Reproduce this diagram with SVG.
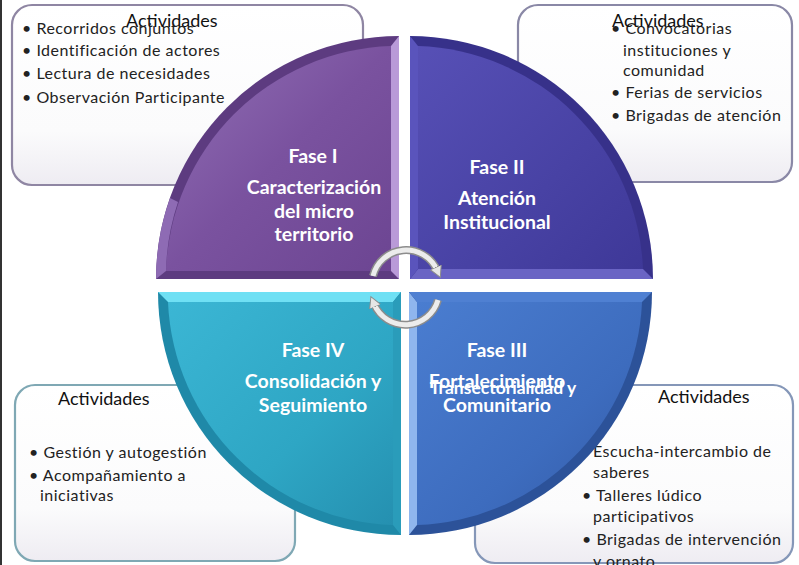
<svg xmlns="http://www.w3.org/2000/svg" width="799" height="565" viewBox="0 0 799 565">
<defs>
<style>
.box{stroke-width:2.2}
.act{font-family:Lato,"Liberation Sans",sans-serif;font-size:18px;fill:#111}
.item{font-family:Lato,"Liberation Sans",sans-serif;font-size:16px;letter-spacing:0.5px;fill:#222}
.ph{font-family:Lato,"Liberation Sans",sans-serif;font-size:19.5px;font-weight:bold;fill:#fff;text-anchor:middle}
.ph2{font-family:Lato,"Liberation Sans",sans-serif;font-size:17.5px;font-weight:bold;fill:#fff;text-anchor:middle}
.arc1{fill:none;stroke:#8c8c8c;stroke-width:8}
.arc2{fill:none;stroke:#ececec;stroke-width:5}
</style>
<linearGradient id="boxfill" x1="0" y1="0" x2="0" y2="1">
<stop offset="0" stop-color="#ffffff"/><stop offset="0.7" stop-color="#fbfbfc"/><stop offset="1" stop-color="#eeecf2"/>
</linearGradient>
<linearGradient id="gTL" x1="0" y1="0" x2="1" y2="1">
<stop offset="0" stop-color="#9270b6"/><stop offset="0.5" stop-color="#7a529f"/><stop offset="1" stop-color="#6c4592"/>
</linearGradient>
<linearGradient id="gTR" x1="0" y1="0" x2="1" y2="1">
<stop offset="0" stop-color="#5750b6"/><stop offset="0.6" stop-color="#4842a4"/><stop offset="1" stop-color="#3e3898"/>
</linearGradient>
<linearGradient id="gBL" x1="0" y1="0" x2="1" y2="1">
<stop offset="0" stop-color="#3bb6d4"/><stop offset="0.6" stop-color="#2ea6c4"/><stop offset="1" stop-color="#2590b0"/>
</linearGradient>
<linearGradient id="gBR" x1="0" y1="0" x2="1" y2="1">
<stop offset="0" stop-color="#4a7dd0"/><stop offset="0.6" stop-color="#3d6cbe"/><stop offset="1" stop-color="#335aa6"/>
</linearGradient>
<marker id="ah" markerUnits="userSpaceOnUse" markerWidth="14" markerHeight="14" refX="3" refY="7" orient="auto">
<path d="M0,1 L11,7 L0,13 Z" fill="#e6e6e6" stroke="#8c8c8c" stroke-width="1"/>
</marker>
</defs>

<rect x="0" y="0" width="2" height="565" fill="#333"/>

<g id="box-tl">
<rect class="box" x="12" y="5" width="351" height="180" rx="20" fill="url(#boxfill)" stroke="#8f86a3"/>
<text class="act" x="126" y="27">Actividades</text>
<text class="item" x="22" y="34">• Recorridos conjuntos</text>
<text class="item" x="22" y="56">• Identificación de actores</text>
<text class="item" x="22" y="79">• Lectura de necesidades</text>
<text class="item" x="22" y="103">• Observación Participante</text>
</g>

<g id="box-tr">
<rect class="box" x="518" y="5" width="274" height="177" rx="20" fill="url(#boxfill)" stroke="#8a88a6"/>
<text class="item" x="611" y="34">• Convocatorias</text>
<text class="item" x="623" y="56">instituciones y</text>
<text class="item" x="623" y="76">comunidad</text>
<text class="item" x="611" y="98">• Ferias de servicios</text>
<text class="item" x="611" y="121">• Brigadas de atención</text>
<text class="act" x="612" y="27">Actividades</text>
</g>

<g id="box-bl">
<rect class="box" x="15" y="385" width="280" height="176" rx="20" fill="url(#boxfill)" stroke="#7fa8b4"/>
<text class="act" x="58" y="405">Actividades</text>
<text class="item" x="29" y="458">• Gestión y autogestión</text>
<text class="item" x="29" y="481">• Acompañamiento a</text>
<text class="item" x="40" y="501">iniciativas</text>
</g>

<g id="box-br">
<rect class="box" x="475" y="385" width="318" height="178" rx="20" fill="url(#boxfill)" stroke="#8597b8"/>
<text class="act" x="658" y="403">Actividades</text>
<text class="item" x="593" y="457">Escucha-intercambio de</text>
<text class="item" x="593" y="478">saberes</text>
<text class="item" x="582" y="501">• Talleres lúdico</text>
<text class="item" x="593" y="522">participativos</text>
<text class="item" x="582" y="545">• Brigadas de intervención</text>
<text class="item" x="593" y="567">y ornato</text>
</g>

<g id="fase-1">
<path d="M399,279 L156,279 A243,243 0 0 1 399,36 Z" fill="#5d3b80"/>
<path d="M391,271 L166,271 A233,233 0 0 1 391,46 Z" fill="url(#gTL)"/>
<path d="M391,46 L399,36 L399,279 L391,271 Z" fill="#b99ad8"/>
<path d="M166,271 L156,279 A243,243 0 0 1 170,198 L178,202 A233,233 0 0 0 166,271 Z" fill="#8e6bb4"/>
<text class="ph" x="313" y="163">Fase I</text>
<text class="ph" x="314" y="194">Caracterización</text>
<text class="ph" x="314" y="218">del micro</text>
<text class="ph" x="314" y="241">territorio</text>
</g>

<g id="fase-2">
<path d="M410,279 L653,279 A243,243 0 0 0 410,36 Z" fill="#37318a"/>
<path d="M418,269 L643,269 A233,233 0 0 0 418,46 Z" fill="url(#gTR)"/>
<path d="M418,269 L643,269 L653,279 L410,279 Z" fill="#6a64c4"/>
<path d="M410,36 L418,46 L418,269 L410,279 Z" fill="#5a54bc"/>
<text class="ph" x="497" y="174">Fase II</text>
<text class="ph" x="497" y="205">Atención</text>
<text class="ph" x="497" y="229">Institucional</text>
</g>

<g id="fase-4">
<path d="M401,292 L158,292 A243,243 0 0 0 401,535 Z" fill="#1f89a8"/>
<path d="M393,302 L168,302 A233,233 0 0 0 393,525 Z" fill="url(#gBL)"/>
<path d="M158,292 L401,292 L393,302 L168,302 Z" fill="#6fe0f4"/>
<path d="M393,302 L401,292 L401,535 L393,525 Z" fill="#2a9cba"/>
<text class="ph" x="313" y="357">Fase IV</text>
<text class="ph" x="313" y="388">Consolidación y</text>
<text class="ph" x="313" y="412">Seguimiento</text>
</g>

<g id="fase-3">
<path d="M409,292 L652,292 A243,243 0 0 1 409,535 Z" fill="#2c5299"/>
<path d="M417,302 L642,302 A233,233 0 0 1 417,525 Z" fill="url(#gBR)"/>
<path d="M409,292 L417,302 L417,525 L409,535 Z" fill="#8fb6ee"/>
<path d="M409,292 L652,292 L642,302 L417,302 Z" fill="#4f80d2"/>
<text class="ph" x="497" y="357">Fase III</text>
<text class="ph" x="497" y="388">Fortalecimiento</text>
<text class="ph2" x="503" y="394">Transectorialidad  y</text>
<text class="ph" x="497" y="412">Comunitario</text>
</g>

<g id="connectors">
<path class="arc1" d="M373,276 A34,34 0 0 1 437,270"/>
<path class="arc2" d="M373,276 A34,34 0 0 1 437,270" marker-end="url(#ah)"/>
<path class="arc1" d="M438,300 A34,34 0 0 1 374,304"/>
<path class="arc2" d="M438,300 A34,34 0 0 1 374,304" marker-end="url(#ah)"/>
</g>
</svg>
